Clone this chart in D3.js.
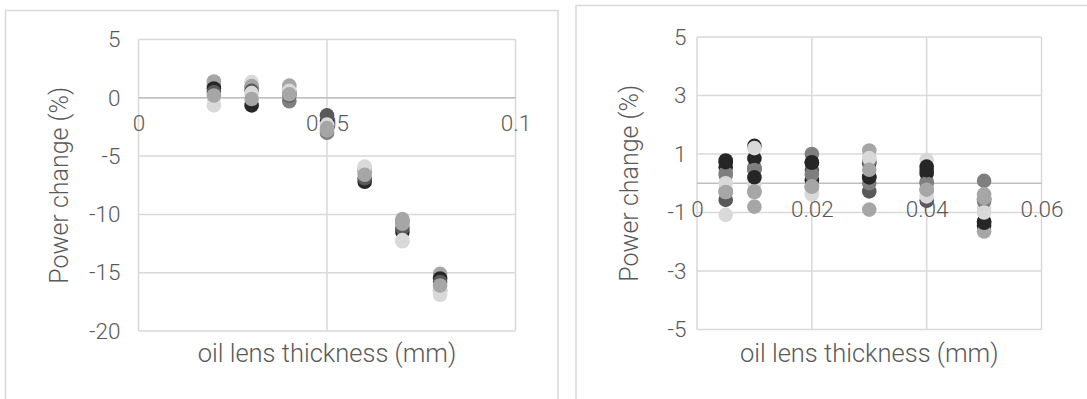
<!DOCTYPE html>
<html>
<head>
<meta charset="utf-8">
<script src="https://cdn.jsdelivr.net/npm/d3@7"></script>
<style>
  html, body { margin: 0; padding: 0; background: #ffffff; }
  svg { display: block; }
  text { font-family: Roboto, "Noto Sans", sans-serif; font-weight: 300; fill: #595959; }
</style>
</head>
<body>
<svg id="chart" width="1087" height="399"></svg>
<script>
// ---- data: left panel (0–0.1 mm) ----
const leftThickness = [0.02, 0.03, 0.04, 0.05, 0.06, 0.07, 0.08];
const leftRun1 = [-0.65, 1.35, 0.9, -2.3, -5.9, -12.3, -16.9];
const leftRun2 = [1.1, 0.9, -0.3, -3.0, -6.3, -10.6, -16.5];
const leftRun3 = [1.4, 1.0, 1.05, -2.8, -6.1, -10.4, -15.1];
const leftRun4 = [0.8, -0.65, 0.5, -2.0, -7.2, -11.5, -15.5];
const leftRun5 = [0.5, 0.6, 0.2, -1.5, -6.9, -11.2, -15.8];
const leftRun6 = [0.0, 0.4, 0.6, -2.3, -6.0, -12.2, -16.6];
const leftRun7 = [0.2, -0.1, 0.3, -2.6, -6.6, -10.8, -16.1];
const leftRuns = [leftRun1, leftRun2, leftRun3, leftRun4, leftRun5, leftRun6, leftRun7];
const leftXTicks = [0, 0.05, 0.1];
const leftYTicks = [5, 0, -5, -10, -15, -20];

// ---- data: right panel (0–0.06 mm) ----
const rightThickness = [0.005, 0.01, 0.02, 0.03, 0.04, 0.05];
const rightRun1 = [-1.08, -0.02, -0.38, 0.88, 0.8, -0.85];
const rightRun2 = [-0.57, 0.5, 0.45, -0.28, -0.6, -0.55];
const rightRun3 = [0.28, 0.55, 1.0, 0.0, 0.05, 0.08];
const rightRun4 = [0.78, 1.28, 0.72, 0.68, 0.57, -1.3];
const rightRun5 = [-0.3, -0.3, -0.15, 1.12, -0.2, -0.38];
const rightRun6 = [0.55, 0.85, 0.1, 0.22, 0.33, -1.45];
const rightRun7 = [0.35, 0.45, 0.3, 0.75, 0.0, -0.62];
const rightRun8 = [-0.25, -0.8, -0.1, -0.9, -0.25, -1.65];
const rightRun9 = [0.72, 0.2, 0.7, 0.2, 0.45, -1.35];
const rightRun10 = [0.0, 1.2, -0.3, 0.86, -0.45, -1.0];
const rightRun11 = [-0.3, -0.28, -0.12, 0.46, -0.22, -0.5];
const rightRuns = [rightRun1, rightRun2, rightRun3, rightRun4, rightRun5, rightRun6,
                   rightRun7, rightRun8, rightRun9, rightRun10, rightRun11];
const rightXTicks = [0, 0.02, 0.04, 0.06];
const rightYTicks = [5, 3, 1, -1, -3, -5];

const xTitle = "oil lens thickness (mm)";
const yTitle = "Power change (%)";

// ---- marker shades, in drawing order ----
const leftColors = ["#d9d9d9", "#7f7f7f", "#a6a6a6", "#262626", "#595959", "#d9d9d9", "#a6a6a6"];
const rightColors = ["#d9d9d9", "#595959", "#7f7f7f", "#262626", "#a6a6a6", "#262626",
                     "#7f7f7f", "#a6a6a6", "#262626", "#d9d9d9", "#a6a6a6"];

const svg = d3.select("#chart");

// plain hyphen-minus for negative numbers
const fmtNum = d => (d < 0 ? "-" : "") + String(+Math.abs(d).toFixed(3));

function drawPanel(cfg) {
  const g = svg.append("g");

  // outer chart frame
  g.append("rect")
    .attr("x", cfg.frame[0]).attr("y", cfg.frame[1])
    .attr("width", cfg.frame[2]).attr("height", cfg.frame[3])
    .attr("fill", "#ffffff").attr("stroke", "#d9d9d9").attr("stroke-width", 1.5);

  const x = d3.scaleLinear().domain(cfg.xDomain).range([cfg.plot.left, cfg.plot.right]);
  const y = d3.scaleLinear().domain(cfg.yDomain).range([cfg.plot.bottom, cfg.plot.top]);

  // gridlines
  g.append("g").selectAll("line").data(cfg.yTicks).join("line")
    .attr("x1", cfg.plot.left).attr("x2", cfg.plot.right)
    .attr("y1", d => y(d)).attr("y2", d => y(d))
    .attr("stroke", "#d9d9d9").attr("stroke-width", 1.5);
  g.append("g").selectAll("line").data(cfg.xTicks).join("line")
    .attr("x1", d => x(d)).attr("x2", d => x(d))
    .attr("y1", cfg.plot.top).attr("y2", cfg.plot.bottom)
    .attr("stroke", "#d9d9d9").attr("stroke-width", 1.5);

  // horizontal axis line at zero
  g.append("line")
    .attr("x1", cfg.plot.left).attr("x2", cfg.plot.right)
    .attr("y1", y(0)).attr("y2", y(0))
    .attr("stroke", "#bfbfbf").attr("stroke-width", 1.6);

  // y tick labels
  const yAxis = g.append("g")
    .attr("transform", `translate(${cfg.plot.left},0)`)
    .call(d3.axisLeft(y).tickValues(cfg.yTicks).tickSize(0).tickPadding(cfg.yPad)
      .tickFormat(fmtNum));
  yAxis.select(".domain").remove();
  yAxis.selectAll("text").attr("font-size", 22.5).attr("fill", "#595959")
    .style("font-family", "Roboto, sans-serif");

  // x tick labels, hanging below the zero line
  const xAxis = g.append("g")
    .attr("transform", `translate(0,${y(0)})`)
    .call(d3.axisBottom(x).tickValues(cfg.xTicks).tickSize(0).tickPadding(cfg.xPad)
      .tickFormat(fmtNum));
  xAxis.select(".domain").remove();
  xAxis.selectAll("text").attr("font-size", 22.5).attr("fill", "#595959")
    .style("font-family", "Roboto, sans-serif");

  // markers
  cfg.runs.forEach((run, i) => {
    g.append("g").selectAll("circle")
      .data(run.map((v, j) => ({ t: cfg.thickness[j], v })))
      .join("circle")
      .attr("cx", d => x(d.t)).attr("cy", d => y(d.v))
      .attr("r", 7.3)
      .attr("fill", cfg.colors[i]);
  });

  // axis titles
  g.append("text")
    .attr("x", (cfg.plot.left + cfg.plot.right) / 2).attr("y", 362)
    .attr("text-anchor", "middle").attr("font-size", 25.5)
    .text(xTitle);
  g.append("text")
    .attr("transform", `translate(${cfg.yTitleX},${(cfg.plot.top + cfg.plot.bottom) / 2}) rotate(-90)`)
    .attr("text-anchor", "middle").attr("dominant-baseline", "central").attr("font-size", 25)
    .text(yTitle);
}

drawPanel({
  frame: [5.5, 10.5, 552.5, 400],
  plot: { left: 138.5, right: 515.5, top: 39.5, bottom: 331 },
  xDomain: [0, 0.1], yDomain: [-20, 5],
  xTicks: leftXTicks, yTicks: leftYTicks,
  thickness: leftThickness, runs: leftRuns, colors: leftColors,
  yPad: 18, xPad: 17, yTitleX: 59
});

drawPanel({
  frame: [576, 5.5, 520, 400],
  plot: { left: 697, right: 1041.5, top: 37, bottom: 329.5 },
  xDomain: [0, 0.06], yDomain: [-5, 5],
  xTicks: rightXTicks, yTicks: rightYTicks,
  thickness: rightThickness, runs: rightRuns, colors: rightColors,
  yPad: 10.5, xPad: 18, yTitleX: 629.5
});
</script>
</body>
</html>
